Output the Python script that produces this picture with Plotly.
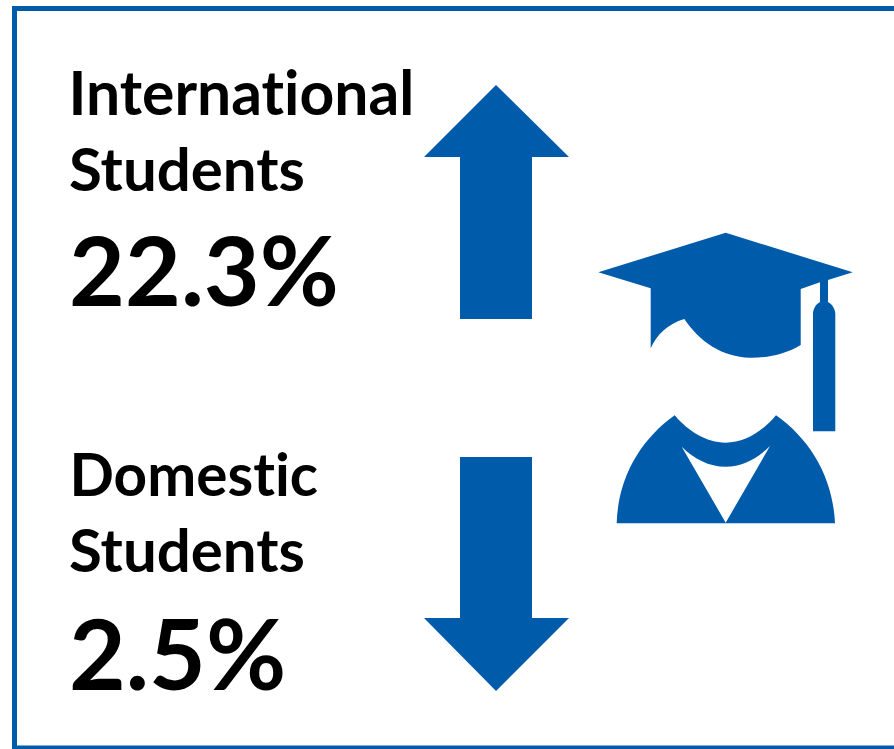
import plotly.graph_objects as go

WIDTH, HEIGHT = 894, 749
BLUE = "#005BAA"
FONT = "Lato, Carlito, Calibri, sans-serif"

# Student groups, their change figures and direction
groups = ["International", "Domestic"]
group_suffix = ["Students", "Students"]
changes = ["22.3%", "2.5%"]

# Text rows as (text, left edge, vertical centre, size)
rows = [
    (groups[0], 67, 91, 60.6),
    (group_suffix[0], 68, 168, 60),
    (changes[0], 68, 269, 96.5),
    (groups[1], 68, 473, 58.5),
    (group_suffix[1], 68, 549, 60),
    (changes[1], 68, 652, 98),
]

# Block arrows, border and graduate icon, as SVG paths in page units
arrow_up = "M496,85 L569,157 L532,157 L532,319 L460,319 L460,157 L424,157 Z"
arrow_down = "M460,457 L532,457 L532,618 L569,618 L496,691 L424,618 L460,618 Z"
cap = (
    "M725.7,232.7 L852.7,272.3 L828,280 L828,302 C832,304 835.3,309 835.3,314 "
    "L835.3,431.3 L813,431.3 L813,314 C813,309 816,304 820,302 L820,282.3 "
    "L800.7,289 L800.7,345 C786,354 768,358 750,357.7 C722,357 700,342 684.3,319 "
    "C668,324 657,334 650.7,348.3 L650.7,288.3 L598.3,272.3 Z"
)
gown = (
    "M616.7,523.3 C618,478 640,440 674.7,415.3 C688,431 706,442.7 725.7,442.7 "
    "C745,442.7 763,431 776,415.3 C811,440 833,478 835,523.3 Z "
    "M681.7,446.7 L725.7,522.7 L770,446 C757,459 742,466.7 725.7,466.7 "
    "C709,466.7 694,459 681.7,446.7 Z"
)

fig = go.Figure()
fig.add_trace(go.Scatter(x=[], y=[], hoverinfo="skip", showlegend=False))

shapes = [
    dict(type="rect", x0=14.5, x1=WIDTH + 10, y0=8.5, y1=748,
         line=dict(color=BLUE, width=5), fillcolor="white", layer="below"),
]
for path in (arrow_up, arrow_down, cap, gown):
    shapes.append(dict(type="path", path=path, fillcolor=BLUE,
                       line=dict(width=0), layer="above"))

annotations = [
    dict(text=text, x=x, y=y, xref="x", yref="y", xanchor="left", yanchor="middle",
         showarrow=False, borderpad=0, font=dict(family=FONT, size=size, color="black", weight="bold"))
    for text, x, y, size in rows
]

fig.update_layout(
    width=WIDTH, height=HEIGHT, margin=dict(l=0, r=0, t=0, b=0),
    paper_bgcolor="white", plot_bgcolor="white", showlegend=False,
    xaxis=dict(range=[0, WIDTH], visible=False, fixedrange=True),
    yaxis=dict(range=[HEIGHT, 0], visible=False, fixedrange=True),
    shapes=shapes, annotations=annotations,
)
# Keep "ti" as two separate letters in the headings
no_ligatures = (
    "document.querySelectorAll('.annotation-text')"
    ".forEach(t => t.style.fontVariantLigatures = 'none');"
)
fig.write_html("out.html", config=dict(displayModeBar=False), post_script=no_ligatures)
